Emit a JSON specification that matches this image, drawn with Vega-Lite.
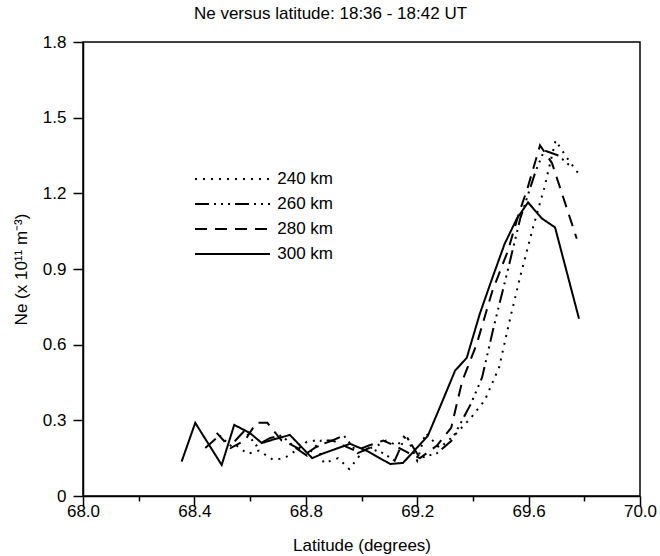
{
  "$schema": "https://vega.github.io/schema/vega-lite/v6.json",
  "width": 557,
  "height": 454,
  "autosize": {"type": "none"},
  "padding": {"left": 83, "top": 42, "right": 20, "bottom": 60},
  "background": "white",
  "title": {"text": "Ne versus latitude: 18:36 - 18:42 UT", "font": "Liberation Sans", "fontSize": 17, "fontWeight": "normal", "color": "black", "offset": 10, "dx": -31},
  "config": {"view": {"stroke": "black", "strokeWidth": 1.5}, "font": "Liberation Sans"},
  "data": {"values": [
    {"alt": "240 km", "lat": 68.551, "ne": 0.20},
    {"alt": "240 km", "lat": 68.591, "ne": 0.167},
    {"alt": "240 km", "lat": 68.632, "ne": 0.18},
    {"alt": "240 km", "lat": 68.683, "ne": 0.143},
    {"alt": "240 km", "lat": 68.723, "ne": 0.15},
    {"alt": "240 km", "lat": 68.764, "ne": 0.18},
    {"alt": "240 km", "lat": 68.804, "ne": 0.215},
    {"alt": "240 km", "lat": 68.835, "ne": 0.22},
    {"alt": "240 km", "lat": 68.865, "ne": 0.13},
    {"alt": "240 km", "lat": 68.916, "ne": 0.15},
    {"alt": "240 km", "lat": 68.956, "ne": 0.107},
    {"alt": "240 km", "lat": 69.007, "ne": 0.18},
    {"alt": "240 km", "lat": 69.058, "ne": 0.20},
    {"alt": "240 km", "lat": 69.088, "ne": 0.22},
    {"alt": "240 km", "lat": 69.129, "ne": 0.20},
    {"alt": "240 km", "lat": 69.159, "ne": 0.246},
    {"alt": "240 km", "lat": 69.200, "ne": 0.14},
    {"alt": "240 km", "lat": 69.230, "ne": 0.25},
    {"alt": "240 km", "lat": 69.281, "ne": 0.19},
    {"alt": "240 km", "lat": 69.342, "ne": 0.25},
    {"alt": "240 km", "lat": 69.393, "ne": 0.31},
    {"alt": "240 km", "lat": 69.443, "ne": 0.38},
    {"alt": "240 km", "lat": 69.494, "ne": 0.51},
    {"alt": "240 km", "lat": 69.535, "ne": 0.71},
    {"alt": "240 km", "lat": 69.570, "ne": 0.87},
    {"alt": "240 km", "lat": 69.616, "ne": 1.065},
    {"alt": "240 km", "lat": 69.656, "ne": 1.22},
    {"alt": "240 km", "lat": 69.697, "ne": 1.41},
    {"alt": "240 km", "lat": 69.738, "ne": 1.34},
    {"alt": "240 km", "lat": 69.778, "ne": 1.28},
    {"alt": "260 km", "lat": 68.439, "ne": 0.19},
    {"alt": "260 km", "lat": 68.490, "ne": 0.24},
    {"alt": "260 km", "lat": 68.530, "ne": 0.20},
    {"alt": "260 km", "lat": 68.581, "ne": 0.26},
    {"alt": "260 km", "lat": 68.622, "ne": 0.20},
    {"alt": "260 km", "lat": 68.672, "ne": 0.23},
    {"alt": "260 km", "lat": 68.713, "ne": 0.24},
    {"alt": "260 km", "lat": 68.764, "ne": 0.19},
    {"alt": "260 km", "lat": 68.804, "ne": 0.16},
    {"alt": "260 km", "lat": 68.855, "ne": 0.22},
    {"alt": "260 km", "lat": 68.896, "ne": 0.22},
    {"alt": "260 km", "lat": 68.936, "ne": 0.24},
    {"alt": "260 km", "lat": 68.987, "ne": 0.17},
    {"alt": "260 km", "lat": 69.027, "ne": 0.19},
    {"alt": "260 km", "lat": 69.078, "ne": 0.17},
    {"alt": "260 km", "lat": 69.119, "ne": 0.14},
    {"alt": "260 km", "lat": 69.159, "ne": 0.24},
    {"alt": "260 km", "lat": 69.210, "ne": 0.15},
    {"alt": "260 km", "lat": 69.271, "ne": 0.17},
    {"alt": "260 km", "lat": 69.322, "ne": 0.218},
    {"alt": "260 km", "lat": 69.393, "ne": 0.366},
    {"alt": "260 km", "lat": 69.433, "ne": 0.47},
    {"alt": "260 km", "lat": 69.474, "ne": 0.667},
    {"alt": "260 km", "lat": 69.525, "ne": 0.894},
    {"alt": "260 km", "lat": 69.570, "ne": 1.10},
    {"alt": "260 km", "lat": 69.626, "ne": 1.29},
    {"alt": "260 km", "lat": 69.656, "ne": 1.37},
    {"alt": "260 km", "lat": 69.707, "ne": 1.35},
    {"alt": "260 km", "lat": 69.758, "ne": 1.30},
    {"alt": "280 km", "lat": 68.480, "ne": 0.25},
    {"alt": "280 km", "lat": 68.530, "ne": 0.19},
    {"alt": "280 km", "lat": 68.581, "ne": 0.22},
    {"alt": "280 km", "lat": 68.622, "ne": 0.29},
    {"alt": "280 km", "lat": 68.662, "ne": 0.29},
    {"alt": "280 km", "lat": 68.713, "ne": 0.22},
    {"alt": "280 km", "lat": 68.754, "ne": 0.20},
    {"alt": "280 km", "lat": 68.804, "ne": 0.17},
    {"alt": "280 km", "lat": 68.845, "ne": 0.20},
    {"alt": "280 km", "lat": 68.896, "ne": 0.22},
    {"alt": "280 km", "lat": 68.936, "ne": 0.20},
    {"alt": "280 km", "lat": 68.977, "ne": 0.18},
    {"alt": "280 km", "lat": 69.027, "ne": 0.20},
    {"alt": "280 km", "lat": 69.078, "ne": 0.22},
    {"alt": "280 km", "lat": 69.119, "ne": 0.20},
    {"alt": "280 km", "lat": 69.170, "ne": 0.17},
    {"alt": "280 km", "lat": 69.210, "ne": 0.15},
    {"alt": "280 km", "lat": 69.271, "ne": 0.20},
    {"alt": "280 km", "lat": 69.322, "ne": 0.27},
    {"alt": "280 km", "lat": 69.362, "ne": 0.457},
    {"alt": "280 km", "lat": 69.413, "ne": 0.60},
    {"alt": "280 km", "lat": 69.469, "ne": 0.81},
    {"alt": "280 km", "lat": 69.525, "ne": 0.97},
    {"alt": "280 km", "lat": 69.565, "ne": 1.12},
    {"alt": "280 km", "lat": 69.596, "ne": 1.22},
    {"alt": "280 km", "lat": 69.641, "ne": 1.39},
    {"alt": "280 km", "lat": 69.684, "ne": 1.32},
    {"alt": "280 km", "lat": 69.773, "ne": 1.02},
    {"alt": "300 km", "lat": 68.354, "ne": 0.136},
    {"alt": "300 km", "lat": 68.403, "ne": 0.29},
    {"alt": "300 km", "lat": 68.498, "ne": 0.123},
    {"alt": "300 km", "lat": 68.543, "ne": 0.282},
    {"alt": "300 km", "lat": 68.599, "ne": 0.25},
    {"alt": "300 km", "lat": 68.642, "ne": 0.21},
    {"alt": "300 km", "lat": 68.690, "ne": 0.226},
    {"alt": "300 km", "lat": 68.743, "ne": 0.242},
    {"alt": "300 km", "lat": 68.823, "ne": 0.15},
    {"alt": "300 km", "lat": 68.858, "ne": 0.167},
    {"alt": "300 km", "lat": 68.959, "ne": 0.207},
    {"alt": "300 km", "lat": 69.019, "ne": 0.179},
    {"alt": "300 km", "lat": 69.103, "ne": 0.127},
    {"alt": "300 km", "lat": 69.149, "ne": 0.131},
    {"alt": "300 km", "lat": 69.238, "ne": 0.238},
    {"alt": "300 km", "lat": 69.291, "ne": 0.377},
    {"alt": "300 km", "lat": 69.336, "ne": 0.497},
    {"alt": "300 km", "lat": 69.378, "ne": 0.548},
    {"alt": "300 km", "lat": 69.425, "ne": 0.723},
    {"alt": "300 km", "lat": 69.469, "ne": 0.862},
    {"alt": "300 km", "lat": 69.514, "ne": 1.0},
    {"alt": "300 km", "lat": 69.558, "ne": 1.10},
    {"alt": "300 km", "lat": 69.598, "ne": 1.164},
    {"alt": "300 km", "lat": 69.648, "ne": 1.10},
    {"alt": "300 km", "lat": 69.695, "ne": 1.065},
    {"alt": "300 km", "lat": 69.781, "ne": 0.703}
  ]},
  "mark": {"type": "line", "color": "black", "strokeWidth": 2},
  "encoding": {
    "x": {
      "field": "lat", "type": "quantitative",
      "scale": {"domain": [68, 70], "nice": false, "zero": false},
      "axis": {
        "title": "Latitude (degrees)", "titleFont": "Liberation Sans", "titleFontSize": 17, "titleFontWeight": "normal", "titleColor": "black", "titlePadding": 18,
        "values": [68, 68.2, 68.4, 68.6, 68.8, 69, 69.2, 69.4, 69.6, 69.8, 70],
        "labelExpr": "round(datum.value*10) % 4 == 0 ? format(datum.value, '.1f') : ''",
        "labelFont": "Liberation Sans", "labelFontSize": 17, "labelColor": "black", "labelPadding": -3,
        "tickColor": "black", "tickWidth": 1.5,
        "tickSize": {"condition": {"test": "round(datum.value*10) % 4 == 0", "value": 10}, "value": 5},
        "domainColor": "black", "domainWidth": 1.5, "grid": false, "labelFlush": false, "labelOverlap": false
      }
    },
    "y": {
      "field": "ne", "type": "quantitative",
      "scale": {"domain": [0, 1.8], "nice": false},
      "axis": {
        "title": "Ne (x 10¹¹ m⁻³)", "titleFont": "Liberation Sans", "titleFontSize": 17, "titleFontWeight": "normal", "titleColor": "black", "titlePadding": 12,
        "values": [0, 0.3, 0.6, 0.9, 1.2, 1.5, 1.8],
        "labelExpr": "datum.value == 0 ? '0' : format(datum.value, '.1f')",
        "labelFont": "Liberation Sans", "labelFontSize": 17, "labelColor": "black", "labelPadding": 7,
        "tickColor": "black", "tickSize": 10, "tickWidth": 1.5, "domainColor": "black", "domainWidth": 1.5, "grid": false, "labelFlush": false, "labelOverlap": false
      }
    },
    "strokeDash": {
      "field": "alt", "type": "nominal",
      "scale": {"domain": ["240 km", "260 km", "280 km", "300 km"], "range": [[2, 6], [14, 5, 2, 5, 2, 5, 2, 5], [12, 8], [1, 0]]},
      "legend": {
        "title": null, "orient": "none", "legendX": 132.5, "legendY": 120,
        "symbolType": "M-2.34375,0H2.34375", "symbolSize": 1024, "symbolStrokeWidth": 2, "symbolStrokeColor": "black",
        "labelFont": "Liberation Sans", "labelFontSize": 17, "labelColor": "black", "rowPadding": 0, "labelOffset": 27.75
      }
    }
  }
}
